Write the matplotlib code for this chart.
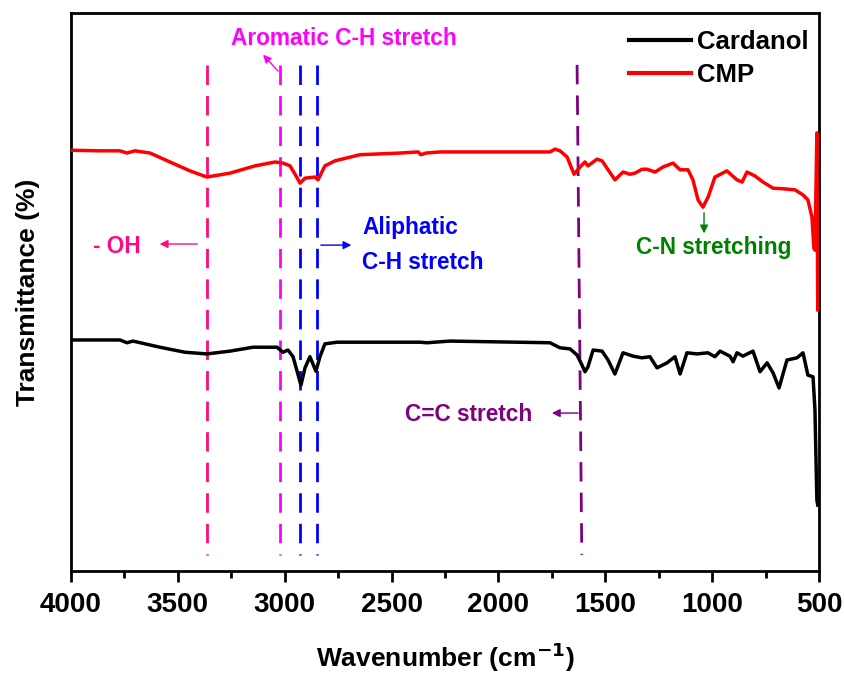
import matplotlib
matplotlib.use("Agg")
import matplotlib.pyplot as plt
from matplotlib.ticker import MultipleLocator

plt.rcParams['font.family'] = ['Liberation Sans', 'DejaVu Sans']
plt.rcParams['font.weight'] = 'bold'
plt.rcParams['mathtext.default'] = 'bf'

# CMP spectrum (wavenumber, transmittance offset units)
cmp_w = [4000, 3864, 3771, 3738, 3701, 3630, 3537, 3443, 3364, 3256, 3139, 3045, 3008, 2975,
         2947, 2928, 2905, 2858, 2844, 2812, 2765, 2648, 2461, 2376, 2362, 2339, 2273, 2133,
         1993, 1759, 1735, 1712, 1679, 1646, 1618, 1595, 1581, 1539, 1515, 1487, 1455, 1417,
         1384, 1361, 1328, 1305, 1267, 1230, 1183, 1150, 1113, 1090, 1066, 1043, 1019, 987,
         931, 884, 860, 837, 800, 762, 715, 669, 612, 575, 552, 533, 524, 519, 510, 506]
cmp_t = [75.4, 75.3, 75.3, 74.9, 75.3, 74.9, 73.3, 71.7, 70.6, 71.3, 72.6, 73.3, 73.1, 72.6,
         70.8, 69.5, 70.4, 70.6, 70.1, 72.6, 73.5, 74.6, 74.9, 75.1, 74.6, 74.9, 75.1, 75.1,
         75.1, 75.1, 75.6, 75.3, 74.2, 71.1, 72.4, 73.3, 72.6, 73.8, 73.5, 71.9, 70.1, 71.5,
         71.1, 71.3, 72.0, 72.0, 71.5, 72.4, 73.1, 71.9, 71.9, 70.1, 66.5, 65.2, 67.0, 70.6,
         71.7, 70.1, 69.7, 71.5, 70.8, 69.7, 68.6, 68.5, 68.3, 67.4, 66.5, 63.4, 57.8, 57.5, 78.5, 46.8]

# Cardanol spectrum
car_w = [4000, 3864, 3771, 3738, 3710, 3584, 3467, 3364, 3256, 3148, 3036, 3008, 2985, 2961,
         2924, 2905, 2882, 2854, 2835, 2812, 2755, 2461, 2367, 2334, 2227, 1913, 1759, 1712,
         1665, 1632, 1609, 1595, 1581, 1557, 1515, 1487, 1455, 1417, 1370, 1328, 1291, 1258,
         1211, 1174, 1150, 1118, 1071, 1020, 987, 963, 917, 902, 884, 856, 809, 776, 743, 715,
         687, 650, 603, 575, 552, 528, 519, 510, 506]
car_t = [41.4, 41.4, 41.4, 40.9, 41.2, 40.1, 39.2, 38.9, 39.4, 40.1, 40.1, 39.2, 39.6, 38.4,
         33.3, 36.4, 38.4, 35.8, 38.4, 40.7, 41.0, 41.0, 41.0, 40.9, 41.2, 41.0, 40.9, 40.0,
         39.8, 38.7, 36.9, 35.7, 36.6, 39.6, 39.4, 37.8, 35.3, 39.1, 38.5, 38.2, 38.4, 36.4,
         37.3, 38.4, 35.3, 39.1, 38.9, 39.1, 38.4, 39.4, 38.5, 37.5, 39.1, 38.5, 39.4, 35.7,
         37.3, 35.5, 32.8, 37.8, 38.2, 39.1, 35.1, 34.8, 28.9, 12.7, 11.8]

# Marker lines (wavenumber at top, at bottom), colors
marker_top = [3364, 3022, 2930, 2850, 1632]
marker_bot = [3364, 3022, 2930, 2850, 1610]
marker_col = ['#FF0A80', '#FF00FF', '#0000FF', '#0000FF', '#800080']
line_y = [90.7, 2.9]

fig = plt.figure(figsize=(8.44, 6.73), dpi=100)
ax = fig.add_axes([0.0841, 0.1516, 0.8863, 0.8291])

for wt, wb, c in zip(marker_top, marker_bot, marker_col):
    ax.plot([wt, wb], line_y, color=c, lw=2.0, dashes=(7, 4), zorder=1)

ax.plot(car_w, car_t, color='black', lw=2.5, label='Cardanol', zorder=3)
ax.plot(cmp_w, cmp_t, color='#FF0000', lw=2.5, label='CMP', zorder=3)

ax.set_xlim(4000, 500)
ax.set_ylim(0, 100)
ax.xaxis.set_major_locator(MultipleLocator(500))
ax.xaxis.set_minor_locator(MultipleLocator(250))
ax.tick_params(axis='x', which='major', direction='out', length=8, width=2, labelsize=20, pad=7)
ax.tick_params(axis='x', which='minor', direction='out', length=5, width=2)
ax.set_yticks([])
for lab in ax.get_xticklabels():
    lab.set_fontweight('bold')
for s in ax.spines.values():
    s.set_linewidth(2)

ax.set_xlabel('Wavenumber (cm$^{-1}$)', fontsize=19, fontweight='bold', labelpad=16)
ax.set_ylabel('Transmittance (%)', fontsize=19, fontweight='bold', labelpad=22)

ap = dict(arrowstyle='-|>', lw=1.0, mutation_scale=12)
fs = 16.3
# Aromatic C-H
ax.text(2723, 95.5, 'Aromatic C-H stretch', color='#FF00FF', fontsize=fs, fontweight='bold', ha='center', va='center')
ax.annotate('', xy=(3110, 92.9), xytext=(3022, 89.2), arrowprops=dict(ap, color='#FF00FF'))
# OH
ax.text(3897, 58.2, '- OH', color='#FF0A80', fontsize=fs, fontweight='bold', ha='left', va='center')
ax.annotate('', xy=(3598, 58.6), xytext=(3396, 58.6), arrowprops=dict(ap, color='#FF0A80'))
# Aliphatic
ax.text(2638, 61.6, 'Aliphatic', color='#0000FF', fontsize=fs, fontweight='bold', ha='left', va='center')
ax.text(2638, 55.2, 'C-H stretch', color='#0000FF', fontsize=fs, fontweight='bold', ha='left', va='center')
ax.annotate('', xy=(2675, 58.4), xytext=(2844, 58.4), arrowprops=dict(ap, color='#0000FF'))
# C-N
ax.text(994, 57.9, 'C-N stretching', color='#008000', fontsize=fs, fontweight='bold', ha='center', va='center')
ax.annotate('', xy=(1038, 60.0), xytext=(1038, 64.7), arrowprops=dict(ap, color='#008000'))
# C=C
ax.text(1843, 28.0, 'C=C stretch', color='#800080', fontsize=fs, fontweight='bold', ha='right', va='center')
ax.annotate('', xy=(1763, 28.3), xytext=(1614, 28.3), arrowprops=dict(ap, color='#800080'))

leg = ax.legend(loc='upper right', frameon=False, prop={'weight': 'bold', 'size': 18.5},
                handlelength=2.4, handletextpad=0.25, labelspacing=0.35, borderaxespad=0.1,
                borderpad=0.3, bbox_to_anchor=(1.0, 0.9875))
for l in leg.get_lines():
    l.set_linewidth(3)

fig.savefig('out.png', dpi=100)
